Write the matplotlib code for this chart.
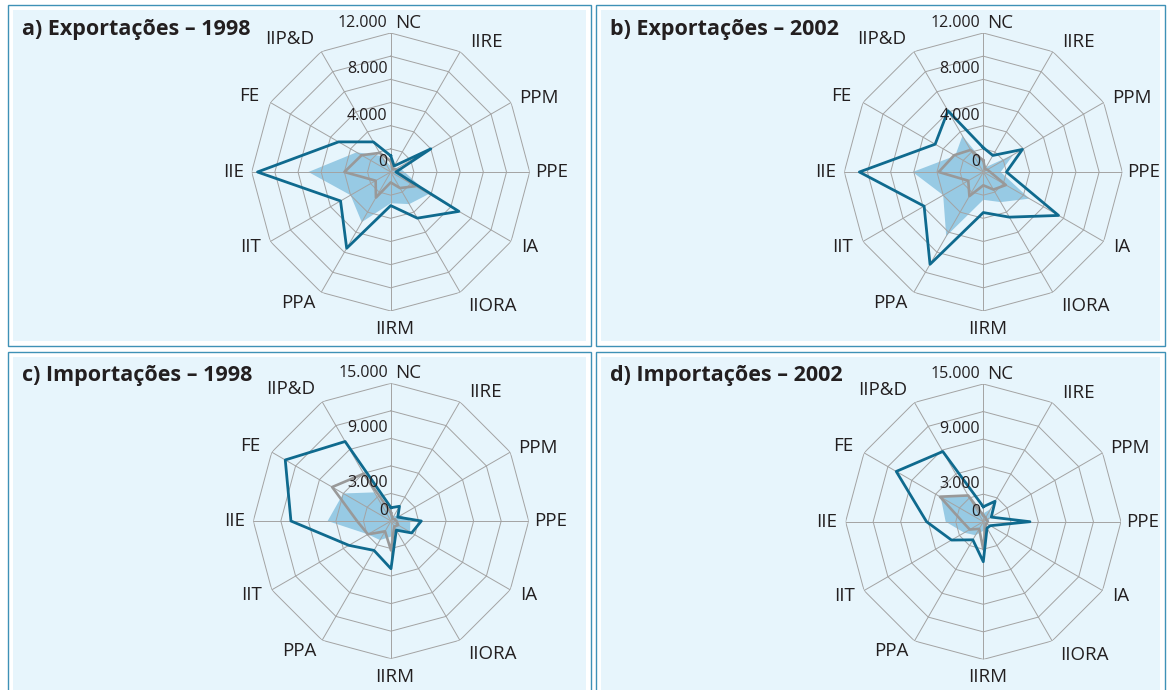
import numpy as np
import matplotlib.pyplot as plt
from matplotlib.patches import Rectangle
from matplotlib.transforms import offset_copy

plt.rcParams['font.family'] = ['Open Sans', 'DejaVu Sans']

W, H = 1167, 690

categories = ["NC", "IIRE", "PPM", "PPE", "IA", "IIORA", "IIRM", "PPA", "IIT", "IIE", "FE", "IIP&D"]

# values (order follows categories)
exp98_dark = [1400, 600, 4000, 450, 6800, 4600, 2900, 7600, 5000, 11500, 5200, 3000]
exp98_fill = [500, 300, 800, 1200, 3800, 3200, 2700, 5000, 4000, 7100, 3400, 1600]
exp98_gray = [950, 300, 500, 600, 2450, 1600, 900, 2550, 1500, 4000, 2900, 1900]

exp02_dark = [2100, 1650, 3900, 2000, 7500, 4500, 3500, 9200, 5900, 10700, 4800, 6100]
exp02_fill = [900, 500, 3000, 1500, 4600, 3000, 2400, 6400, 4000, 6100, 2800, 3600]
exp02_gray = [1000, 300, 400, 600, 2250, 1750, 1150, 2400, 1500, 3850, 2900, 2200]

imp98_dark = [1450, 1850, 850, 3300, 2600, 1150, 5200, 3700, 5300, 10900, 13300, 10000]
imp98_fill = [800, 600, 1250, 2100, 2400, 1300, 1700, 2400, 2900, 6900, 6000, 3600]
imp98_gray = [900, 300, 400, 600, 900, 700, 3200, 1300, 2900, 3700, 7400, 5950]

imp02_dark = [1630, 2570, 1000, 5080, 870, 810, 4360, 2280, 4000, 6180, 10950, 8830]
imp02_fill = [900, 1600, 800, 600, 500, 500, 1000, 1700, 2400, 4100, 5350, 3340]
imp02_gray = [700, 500, 400, 500, 400, 500, 3000, 900, 1700, 2270, 5450, 3300]

exp_ticks = [0, 4000, 8000, 12000]
exp_ticklabels = ["0", "4.000", "8.000", "12.000"]
imp_ticks = [0, 3000, 9000, 15000]
imp_ticklabels = ["0", "3.000", "9.000", "15.000"]

titles = ["a) Exportações – 1998", "b) Exportações – 2002",
          "c) Importações – 1998", "d) Importações – 2002"]

# label placement (fraction of outer radius) and alignment per category
label_r = [1.072, 1.08, 1.067, 1.036, 1.08, 1.116, 1.13, 1.086, 1.08, 1.058, 1.093, 1.107]
label_ha = ['left'] * 6 + ['center'] + ['right'] * 5

DARK = '#0f6a8e'
FILL = '#97cae4'
GRAY = '#999999'
GRID = '#a3a3a3'
BG = '#e7f5fc'
BORDER = '#3f91b6'

fig = plt.figure(figsize=(W / 100, H / 100), dpi=100)
fig.patch.set_facecolor('white')


def rect_px(x0, y0, x1, y1, **kw):
    fig.add_artist(Rectangle((x0 / W, 1 - y1 / H), (x1 - x0) / W, (y1 - y0) / H,
                             transform=fig.transFigure, **kw))


panels = [
    # title, dark, fill, gray, rmax, step, ticks, ticklabels, box, center, radius
    (titles[0], exp98_dark, exp98_fill, exp98_gray, 12000, 2000, exp_ticks, exp_ticklabels,
     (8, 5, 591, 346), (390.7, 172), 139),
    (titles[1], exp02_dark, exp02_fill, exp02_gray, 12000, 2000, exp_ticks, exp_ticklabels,
     (596, 5, 1165, 346), (983.3, 172), 139),
    (titles[2], imp98_dark, imp98_fill, imp98_gray, 15000, 3000, imp_ticks, imp_ticklabels,
     (8, 352, 591, 700), (391, 521), 137.7),
    (titles[3], imp02_dark, imp02_fill, imp02_gray, 15000, 3000, imp_ticks, imp_ticklabels,
     (596, 352, 1165, 700), (983.3, 521.7), 137.7),
]

n = len(categories)
theta = np.arange(n) * 2 * np.pi / n
theta_c = np.append(theta, theta[0])

for title, dark, fill, gray, rmax, step, ticks, ticklabels, box, center, rad in panels:
    x0, y0, x1, y1 = box
    rect_px(x0, y0, x1, y1, facecolor='white', edgecolor=BORDER, lw=1.0, zorder=0)
    rect_px(x0 + 5, y0 + 5, x1 - 5, y1 - 5, facecolor=BG, edgecolor='none', zorder=0)
    fig.text((x0 + 14) / W, 1 - (y0 + 29.5) / H, title, fontsize=15.5, fontweight='bold',
             color='#231f20', ha='left', va='baseline')

    cx, cy = center
    ax = fig.add_axes([(cx - rad) / W, 1 - (cy + rad) / H, 2 * rad / W, 2 * rad / H],
                      projection='polar')
    ax.set_theta_offset(np.pi / 2)
    ax.set_theta_direction(-1)
    ax.set_ylim(0, rmax)
    ax.grid(False)
    ax.set_xticks([])
    ax.set_yticks([])
    ax.spines['polar'].set_visible(False)
    ax.patch.set_alpha(0)

    ax.fill(theta_c, np.append(fill, fill[0]), color=FILL, lw=0, zorder=1)
    for r in np.arange(step, rmax + 1, step):
        ax.plot(theta_c, [r] * (n + 1), color=GRID, lw=0.7, zorder=2)
    for t in theta:
        ax.plot([t, t], [0, rmax], color=GRID, lw=0.7, zorder=2)
    ax.plot(theta_c, np.append(gray, gray[0]), color=GRAY, lw=1.9, zorder=3)
    ax.plot(theta_c, np.append(dark, dark[0]), color=DARK, lw=2.0, zorder=4)

    tick_tr = offset_copy(ax.transData, fig=fig, x=-3, y=2, units='dots')
    for v, lab in zip(ticks, ticklabels):
        ax.text(0, v, lab, transform=tick_tr, ha='right', va='bottom',
                fontsize=11.5, color='#231f20', zorder=5)

    for i, cat in enumerate(categories):
        dx = 4 if cat in ("NC", "IIRE", "IIRM") else 0
        tr = offset_copy(ax.transData, fig=fig, x=dx, y=0, units='dots')
        ax.text(theta[i], rmax * label_r[i], cat, transform=tr, ha=label_ha[i],
                va='center', fontsize=13.5, color='#231f20')

fig.savefig('out.png', dpi=100)
